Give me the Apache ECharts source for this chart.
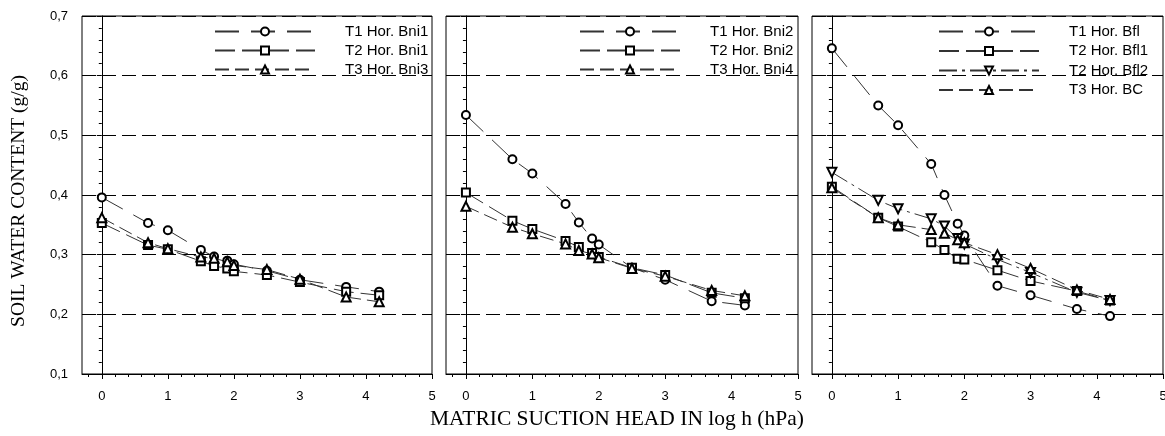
<!DOCTYPE html>
<html>
<head>
<meta charset="utf-8">
<script src="https://cdn.jsdelivr.net/npm/echarts@6/dist/echarts.min.js"></script>
<style>
  html, body { margin: 0; padding: 0; background: #fff; }
  #chart { width: 1165px; height: 436px; }
</style>
</head>
<body>
<div id="chart"></div>
<script>
// log h values shared by all curves
var suction = [0, 0.7, 1, 1.5, 1.7, 1.9, 2, 2.5, 3, 3.7, 4.2];

// panel 1
var bni1T1 = [0.396, 0.353, 0.341, 0.308, 0.297, 0.290, 0.284, 0.273, 0.258, 0.246, 0.238];
var bni1T2 = [0.353, 0.316, 0.309, 0.289, 0.281, 0.277, 0.272, 0.266, 0.254, 0.238, 0.232];
var bni3T3 = [0.362, 0.320, 0.310, 0.296, 0.294, 0.288, 0.282, 0.275, 0.259, 0.229, 0.221];
// panel 2
var bni2T1 = [0.534, 0.460, 0.436, 0.385, 0.354, 0.327, 0.317, 0.278, 0.258, 0.222, 0.215];
var bni2T2 = [0.404, 0.357, 0.343, 0.323, 0.313, 0.303, 0.296, 0.278, 0.266, 0.236, 0.227];
var bni4T3 = [0.381, 0.346, 0.335, 0.318, 0.307, 0.301, 0.295, 0.277, 0.264, 0.240, 0.231];
// panel 3
var bflT1  = [0.646, 0.550, 0.517, 0.452, 0.400, 0.352, 0.332, 0.248, 0.232, 0.209, 0.197];
var bfl1T2 = [0.414, 0.362, 0.347, 0.321, 0.308, 0.293, 0.292, 0.274, 0.256, 0.239, 0.223];
var bfl2T2 = [0.438, 0.391, 0.377, 0.360, 0.348, 0.327, 0.318, 0.292, 0.270, 0.237, 0.223];
var bcT3   = [0.412, 0.362, 0.350, 0.342, 0.336, 0.325, 0.320, 0.300, 0.277, 0.241, 0.225];

var xMajorTicks = [0, 1, 2, 3, 4, 5];
var xMinorTicks = [-0.2, 0.2, 0.4, 0.6, 0.8, 1.2, 1.4, 1.6, 1.8, 2.2, 2.4, 2.6, 2.8,
                   3.2, 3.4, 3.6, 3.8, 4.2, 4.4, 4.6, 4.8];

var sans = "'Liberation Sans Narrow', 'Liberation Sans', Arial, sans-serif";
var serif = "'Liberation Serif', 'Times New Roman', serif";

var styles = {
  T1: { type: [24, 12], symbol: 'emptyCircle', size: 8, rotate: 0 },
  T2: { type: [20, 7], symbol: 'emptyRect', size: 8, rotate: 0 },
  T2b: { type: [18, 5, 3, 5], symbol: 'emptyTriangle', size: 9, rotate: 180 },
  T3: { type: [14, 6], symbol: 'emptyTriangle', size: 9, rotate: 0 }
};

var panels = [
  { left: 82, right: 733, legendLeft: 214, gap: 4,
    curves: [['T1 Hor. Bni1', bni1T1, 'T1'], ['T2 Hor. Bni1', bni1T2, 'T2'], ['T3 Hor. Bni3', bni3T3, 'T3']] },
  { left: 446, right: 367, legendLeft: 579, gap: 4,
    curves: [['T1 Hor. Bni2', bni2T1, 'T1'], ['T2 Hor. Bni2', bni2T2, 'T2'], ['T3 Hor. Bni4', bni4T3, 'T3']] },
  { left: 812, right: 2, legendLeft: 938, gap: 4.5,
    curves: [['T1 Hor. Bfl', bflT1, 'T1'], ['T2 Hor. Bfl1', bfl1T2, 'T2'],
             ['T2 Hor. Bfl2', bfl2T2, 'T2b'], ['T3 Hor. BC', bcT3, 'T3']] }
];

var grids = [], xAxes = [], yAxes = [], legends = [], series = [];

panels.forEach(function (p, i) {
  grids.push({ left: p.left, right: p.right, top: 16, bottom: 62, show: true,
    outerBoundsMode: 'none', containLabel: false,
    borderColor: '#000', borderWidth: 1, backgroundColor: 'transparent' });

  // main x axis: line, major ticks, labels
  xAxes.push({
    type: 'value', gridIndex: i, min: -0.3, max: 5,
    axisLine: { show: true, lineStyle: { color: '#000', width: 1 } },
    axisTick: { show: true, length: 5, customValues: xMajorTicks, lineStyle: { color: '#000' } },
    axisLabel: { show: true, customValues: xMajorTicks, margin: 16, color: '#000',
      fontFamily: sans, fontSize: 13 },
    splitLine: { show: false }
  });
  // minor x ticks
  xAxes.push({
    type: 'value', gridIndex: i, min: -0.3, max: 5, position: 'bottom',
    axisLine: { show: false },
    axisTick: { show: true, length: 3, customValues: xMinorTicks, lineStyle: { color: '#000' } },
    axisLabel: { show: false },
    splitLine: { show: false }
  });

  yAxes.push({
    type: 'value', gridIndex: i, min: 0.1, max: 0.7, interval: 0.1,
    axisLine: { show: true, lineStyle: { color: '#000', width: 1 } },
    axisTick: { show: true, length: 5, lineStyle: { color: '#000' } },
    minorTick: { show: true, splitNumber: 5, length: 3, lineStyle: { color: '#000' } },
    splitLine: { show: true, lineStyle: { color: '#000', width: 1, type: [14, 6] } },
    axisLabel: { show: i === 0, margin: 14, color: '#000', fontFamily: sans, fontSize: 13,
      formatter: function (v) { return v.toFixed(1).replace('.', ','); } }
  });

  legends.push({
    data: p.curves.map(function (c) { return c[0]; }),
    orient: 'vertical', left: p.legendLeft, top: 24, padding: 0,
    itemWidth: 100, itemHeight: 10, itemGap: p.gap,
    selectedMode: false,
    textStyle: { fontFamily: "'Liberation Sans', Arial, sans-serif", fontSize: 15,
      color: '#000', padding: [0, 0, 0, 25] }
  });

  p.curves.forEach(function (c) {
    var st = styles[c[2]];
    series.push({
      name: c[0], type: 'line',
      xAxisIndex: i * 2, yAxisIndex: i,
      data: suction.map(function (x, k) { return [x, c[1][k]]; }),
      symbol: st.symbol, symbolSize: st.size, symbolRotate: st.rotate,
      itemStyle: { color: '#000', borderWidth: 1 },
      lineStyle: { color: '#333', width: 1, type: st.type },
      z: 3
    });
  });
});

var chart = echarts.init(document.getElementById('chart'), null, { renderer: 'canvas' });
chart.setOption({
  animation: false,
  backgroundColor: '#fff',
  grid: grids,
  xAxis: xAxes,
  yAxis: yAxes,
  legend: legends,
  series: series,
  graphic: [
    { type: 'text', left: 430, top: 408,
      style: { text: 'MATRIC SUCTION HEAD IN log h (hPa)', font: '21.5px ' + serif, fill: '#000' } },
    { type: 'text', x: 19, y: 201, rotation: Math.PI / 2,
      style: { text: 'SOIL WATER CONTENT (g/g)', font: '19.5px ' + serif, fill: '#000',
        align: 'center', verticalAlign: 'middle' } }
  ]
});
</script>
</body>
</html>
